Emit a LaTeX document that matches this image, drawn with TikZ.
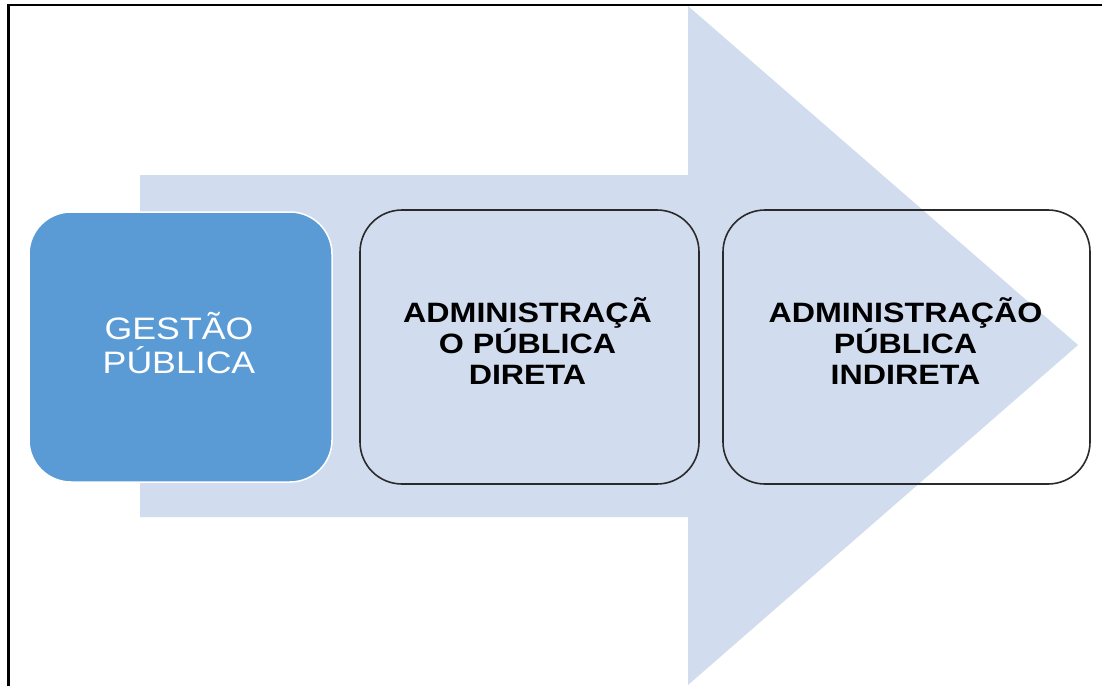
\documentclass[tikz,border=0pt]{standalone}
\usepackage{fontspec}
\usepackage{graphicx}
\setmainfont{Liberation Sans}
\definecolor{arrowfill}{HTML}{D1DDEE}
\definecolor{boxblue}{HTML}{5B9BD5}
\definecolor{boxline}{HTML}{2A2A2A}
\newcommand\wideline[1]{\scalebox{1.15}[1]{#1}}
\begin{document}
\begin{tikzpicture}[x=1pt,y=-1pt,
  stepbox/.style={rectangle, rounded corners=42pt, inner sep=0pt},
  firstbox/.style={stepbox, fill=boxblue, draw=white, line width=1.5pt},
  plainbox/.style={stepbox, draw=boxline, line width=1.6pt},
  firsttext/.style={align=center, inner sep=0pt, text=white,
    font=\fontsize{31}{35}\selectfont},
  plaintext/.style={align=center, inner sep=0pt, text=black,
    font=\fontsize{28}{31}\selectfont\bfseries}]
\useasboundingbox (0,0) rectangle (1102,686);
\fill[white] (0,0) rectangle (1102,686);
% frame
\draw[line width=2.2pt, black] (8.5,686) -- (8.5,5) -- (1102,5);
% big arrow
\fill[arrowfill] (140,175) -- (688,175) -- (688,6) -- (1078,345) -- (688,685) -- (688,517) -- (140,517) -- cycle;
% boxes
\node[firstbox, minimum width=303pt, minimum height=270pt] (gestao) at (180.5,347) {};
\node[plainbox, minimum width=339pt, minimum height=274pt] (direta) at (529.5,347) {};
\node[plainbox, minimum width=367pt, minimum height=274pt] (indireta) at (906.5,347) {};
% texts
\node[firsttext] (gestaoT) at ([xshift=-1.5pt,yshift=4pt]gestao.center)
  {\wideline{GESTÃO}\\[-1pt]\wideline{PÚBLICA}};
\node[plaintext] (diretaT) at ([xshift=-2pt,yshift=6pt]direta.center)
  {\wideline{ADMINISTRAÇÃ}\\\wideline{O PÚBLICA}\\\wideline{DIRETA}};
\node[plaintext] (indiretaT) at ([xshift=-1pt,yshift=6pt]indireta.center)
  {\wideline{ADMINISTRAÇÃO}\\\wideline{PÚBLICA}\\\wideline{INDIRETA}};
\end{tikzpicture}
\end{document}
